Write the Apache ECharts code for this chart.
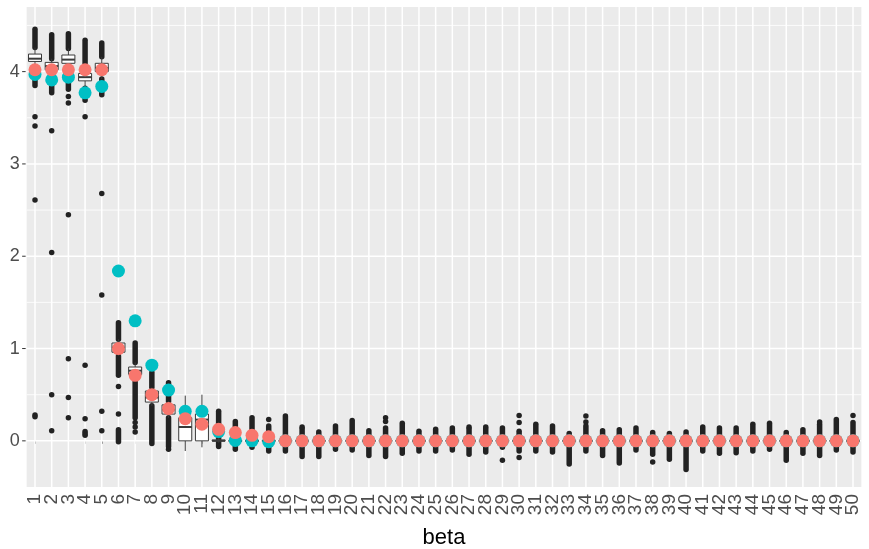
<!DOCTYPE html>
<html>
<head>
<meta charset="utf-8">
<script src="https://cdn.jsdelivr.net/npm/echarts@6/dist/echarts.min.js"></script>
<style>
html,body{margin:0;padding:0;background:#fff;}
#chart{width:869px;height:549px;}
</style>
</head>
<body>
<div id="chart"></div>
<script>
// ---------- data ----------
const categories = ['1','2','3','4','5','6','7','8','9','10','11','12','13','14','15','16','17','18','19','20',
  '21','22','23','24','25','26','27','28','29','30','31','32','33','34','35','36','37','38','39','40',
  '41','42','43','44','45','46','47','48','49','50'];

// box stats per category: [lower whisker, Q1, median, Q3, upper whisker]
const boxStats = [
  [4.03,4.11,4.14,4.19,4.26],[3.95,4.02,4.06,4.10,4.14],[4.00,4.09,4.13,4.18,4.25],[3.82,3.90,3.94,3.98,4.06],
  [3.92,4.00,4.04,4.09,4.16],[0.92,0.96,1.01,1.06,1.10],[0.67,0.72,0.76,0.80,0.85],[0.38,0.42,0.47,0.54,0.58],
  [0.25,0.29,0.34,0.39,0.43],[-0.11,0.00,0.15,0.25,0.49],[-0.07,0.00,0.23,0.29,0.50],[-0.02,0.00,0.00,0.01,0.03],
  [-0.02,-0.005,0,0.005,0.02],[-0.02,-0.005,0,0.005,0.02],[-0.02,-0.005,0,0.005,0.02],[-0.02,-0.005,0,0.005,0.02],
  [-0.02,-0.005,0,0.005,0.02],[-0.02,-0.005,0,0.005,0.02],[-0.02,-0.005,0,0.005,0.02],[-0.02,-0.005,0,0.005,0.02],
  [-0.02,-0.005,0,0.005,0.02],[-0.02,-0.005,0,0.005,0.02],[-0.02,-0.005,0,0.005,0.02],[-0.02,-0.005,0,0.005,0.02],
  [-0.02,-0.005,0,0.005,0.02],[-0.02,-0.005,0,0.005,0.02],[-0.02,-0.005,0,0.005,0.02],[-0.02,-0.005,0,0.005,0.02],
  [-0.02,-0.005,0,0.005,0.02],[-0.02,-0.005,0,0.005,0.02],[-0.02,-0.005,0,0.005,0.02],[-0.02,-0.005,0,0.005,0.02],
  [-0.02,-0.005,0,0.005,0.02],[-0.02,-0.005,0,0.005,0.02],[-0.02,-0.005,0,0.005,0.02],[-0.02,-0.005,0,0.005,0.02],
  [-0.02,-0.005,0,0.005,0.02],[-0.02,-0.005,0,0.005,0.02],[-0.02,-0.005,0,0.005,0.02],[-0.02,-0.005,0,0.005,0.02],
  [-0.02,-0.005,0,0.005,0.02],[-0.02,-0.005,0,0.005,0.02],[-0.02,-0.005,0,0.005,0.02],[-0.02,-0.005,0,0.005,0.02],
  [-0.02,-0.005,0,0.005,0.02],[-0.02,-0.005,0,0.005,0.02],[-0.02,-0.005,0,0.005,0.02],[-0.02,-0.005,0,0.005,0.02],
  [-0.02,-0.005,0,0.005,0.02],[-0.02,-0.005,0,0.005,0.02]
];

// dense runs of outliers: [category, from, to]
const outlierRuns = [
  ['1',4.26,4.46],['1',3.85,4.03],['2',4.14,4.40],['2',3.77,3.95],['3',4.25,4.41],['3',3.81,4.00],
  ['4',4.06,4.34],['4',3.69,3.82],['5',4.16,4.31],['5',3.75,3.92],
  ['6',1.10,1.28],['6',0.71,0.92],['6',-0.01,0.12],['7',0.85,1.06],['7',0.25,0.67],
  ['8',0.58,0.74],['8',-0.03,0.38],['9',0.43,0.63],['9',-0.06,0.25],
  ['12',-0.06,0.32],['13',-0.09,0.21],['14',-0.07,0.25],['15',-0.11,0.16],['16',-0.11,0.27],
  ['17',-0.17,0.13],['18',-0.17,0.095],['19',-0.09,0.16],['20',-0.10,0.22],['21',-0.16,0.11],
  ['22',-0.17,0.14],['23',-0.135,0.19],['24',-0.11,0.105],['25',-0.11,0.125],['26',-0.10,0.14],
  ['27',-0.145,0.13],['28',-0.12,0.13],['29',-0.07,0.14],['30',-0.11,0.105],['31',-0.11,0.18],
  ['32',-0.12,0.16],['33',-0.25,0.08],['34',-0.11,0.16],['35',-0.16,0.11],['36',-0.24,0.12],
  ['37',-0.10,0.14],['38',-0.145,0.09],['39',-0.20,0.08],['40',-0.31,0.095],['41',-0.11,0.15],
  ['42',-0.135,0.14],['43',-0.13,0.14],['44',-0.11,0.18],['45',-0.09,0.19],['46',-0.21,0.09],
  ['47',-0.135,0.12],['48',-0.16,0.18],['49',-0.10,0.23],['50',-0.12,0.20]
];

// single outliers: [category, value]
const outlierPoints = [
  ['1',3.51],['1',3.41],['1',2.61],['1',0.28],['1',0.26],
  ['2',3.36],['2',2.04],['2',0.50],['2',0.11],
  ['3',3.73],['3',3.66],['3',2.45],['3',0.89],['3',0.47],['3',0.25],
  ['4',3.51],['4',0.82],['4',0.24],['4',0.10],['4',0.08],['4',0.06],
  ['5',2.68],['5',1.58],['5',0.32],['5',0.11],
  ['6',0.59],['6',0.29],['7',0.20],['7',0.15],['7',0.095],['9',-0.09],
  ['15',0.23],['17',0.15],['22',0.25],['22',0.21],['27',0.15],['28',0.15],['29',-0.21],
  ['30',0.275],['30',0.20],['30',-0.18],['34',0.27],['34',0.205],['38',-0.23],['48',0.205],['50',0.275]
];

// red points
const redValues = [4.02,4.02,4.02,4.02,4.02,1.00,0.71,0.50,0.35,0.24,0.18,0.125,0.09,0.06,0.045,
  0,0,0,0,0,0,0,0,0,0,0,0,0,0,0,0,0,0,0,0,0,0,0,0,0,0,0,0,0,0,0,0,0,0,0];
// cyan points
const cyanValues = [3.97,3.91,3.94,3.77,3.84,1.84,1.30,0.82,0.55,0.32,0.32,0.10,0.005,0.0,-0.01,
  0,0,0,0,0,0,0,0,0,0,0,0,0,0,0,0,0,0,0,0,0,0,0,0,0,0,0,0,0,0,0,0,0,0,0];

const yMajor = [0,1,2,3,4];
const yMinor = [0.5,1.5,2.5,3.5,4.5];
const xTitle = 'beta';

// ---------- chart ----------
const FONT = "'Liberation Sans', Arial, sans-serif";
const chart = echarts.init(document.getElementById('chart'), null, {renderer:'canvas'});

function hLines(width){
  return function(params, api){
    const cs = params.coordSys;
    const y = api.coord([0, api.value(1)])[1];
    return {type:'line', silent:true,
      shape:{x1:cs.x, y1:y, x2:cs.x+cs.width, y2:y},
      style:{stroke:'#ffffff', lineWidth:width}};
  };
}

const option = {
  animation:false,
  backgroundColor:'#ffffff',
  grid:{left:26.65, right:7.65, top:7, bottom:62, show:true, backgroundColor:'#EBEBEB', borderWidth:0,
        containLabel:false, outerBoundsMode:'none'},
  xAxis:{
    type:'category', data:categories, boundaryGap:true,
    axisLine:{show:false},
    axisTick:{show:true, alignWithLabel:true, interval:0, length:3, lineStyle:{color:'#333333', width:1}},
    axisLabel:{interval:0, rotate:90, margin:7, fontSize:19, color:'#4D4D4D', fontFamily:FONT},
    splitLine:{show:false},
    name:xTitle, nameLocation:'middle', nameGap:40,
    nameTextStyle:{fontSize:22, color:'#000000', fontFamily:FONT}
  },
  yAxis:{
    type:'value', min:-0.5, max:4.7, interval:0.5,
    axisLine:{show:false}, axisTick:{show:false}, splitLine:{show:false},
    axisLabel:{margin:7, fontSize:18, color:'#4D4D4D', fontFamily:FONT,
      formatter:function(v){ return Number.isInteger(v) ? String(v) : ''; }}
  },
  series:[
    { // minor horizontal grid
      type:'custom', silent:true, z:1, clip:false,
      data:yMinor.map(v=>[0,v]), encode:{x:0,y:1},
      renderItem:hLines(0.8)
    },
    { // major horizontal grid
      type:'custom', silent:true, z:1, clip:false,
      data:yMajor.map(v=>[0,v]), encode:{x:0,y:1},
      renderItem:hLines(1.5)
    },
    { // vertical grid at categories
      type:'custom', silent:true, z:1, clip:false,
      data:categories.map(c=>[c,0]), encode:{x:0,y:1},
      renderItem:function(params, api){
        const cs = params.coordSys;
        const x = api.coord([api.value(0), 0])[0];
        return {type:'line', shape:{x1:x, y1:cs.y, x2:x, y2:cs.y+cs.height},
          style:{stroke:'#ffffff', lineWidth:1.5}};
      }
    },
    { // y ticks
      type:'custom', silent:true, z:1, clip:false,
      data:yMajor.map(v=>[0,v]), encode:{x:0,y:1},
      renderItem:function(params, api){
        const cs = params.coordSys;
        const y = api.coord([0, api.value(1)])[1];
        return {type:'line', shape:{x1:cs.x-4.5, y1:y, x2:cs.x-1, y2:y},
          style:{stroke:'#333333', lineWidth:1}};
      }
    },
    { // outlier runs
      type:'custom', silent:true, z:3,
      data:outlierRuns, encode:{x:0,y:[1,2]},
      renderItem:function(params, api){
        const i = api.value(0);
        const p1 = api.coord([i, api.value(1)]);
        const p2 = api.coord([i, api.value(2)]);
        return {type:'line', shape:{x1:p1[0], y1:p1[1], x2:p2[0], y2:p2[1]},
          style:{stroke:'#222222', lineWidth:5.5, lineCap:'round'}};
      }
    },
    { // single outliers
      type:'scatter', silent:true, z:3, symbol:'circle', symbolSize:5.5,
      data:outlierPoints, itemStyle:{color:'#222222', opacity:1}
    },
    { // boxes
      type:'custom', silent:true, z:4,
      data:categories.map((c,i)=>[c].concat(boxStats[i])), encode:{x:0,y:[1,2,3,4,5]},
      renderItem:function(params, api){
        const i = api.value(0);
        const x = api.coord([i, 0])[0];
        const band = api.size([1,0])[0];
        const w = band*0.78;
        const yLo = api.coord([i, api.value(1)])[1];
        const yQ1 = api.coord([i, api.value(2)])[1];
        const yMd = api.coord([i, api.value(3)])[1];
        const yQ3 = api.coord([i, api.value(4)])[1];
        const yHi = api.coord([i, api.value(5)])[1];
        const st = {stroke:'#3a3a3a', lineWidth:1};
        return {type:'group', children:[
          {type:'line', shape:{x1:x,y1:yHi,x2:x,y2:yQ3}, style:st},
          {type:'line', shape:{x1:x,y1:yQ1,x2:x,y2:yLo}, style:st},
          {type:'rect', shape:{x:x-w/2, y:yQ3, width:w, height:Math.max(yQ1-yQ3,0.5)},
            style:{fill:'#ffffff', stroke:'#3a3a3a', lineWidth:1}},
          {type:'line', shape:{x1:x-w/2,y1:yMd,x2:x+w/2,y2:yMd}, style:{stroke:'#3a3a3a', lineWidth:2}}
        ]};
      }
    },
    { // cyan points
      type:'scatter', silent:true, z:5, symbol:'circle', symbolSize:13,
      data:categories.map((c,i)=>[c, cyanValues[i]]), itemStyle:{color:'#00BFC4', opacity:1}
    },
    { // red points
      type:'scatter', silent:true, z:6, symbol:'circle', symbolSize:13,
      data:categories.map((c,i)=>[c, redValues[i]]), itemStyle:{color:'#F8766D', opacity:1}
    }
  ]
};
chart.setOption(option);
</script>
</body>
</html>
